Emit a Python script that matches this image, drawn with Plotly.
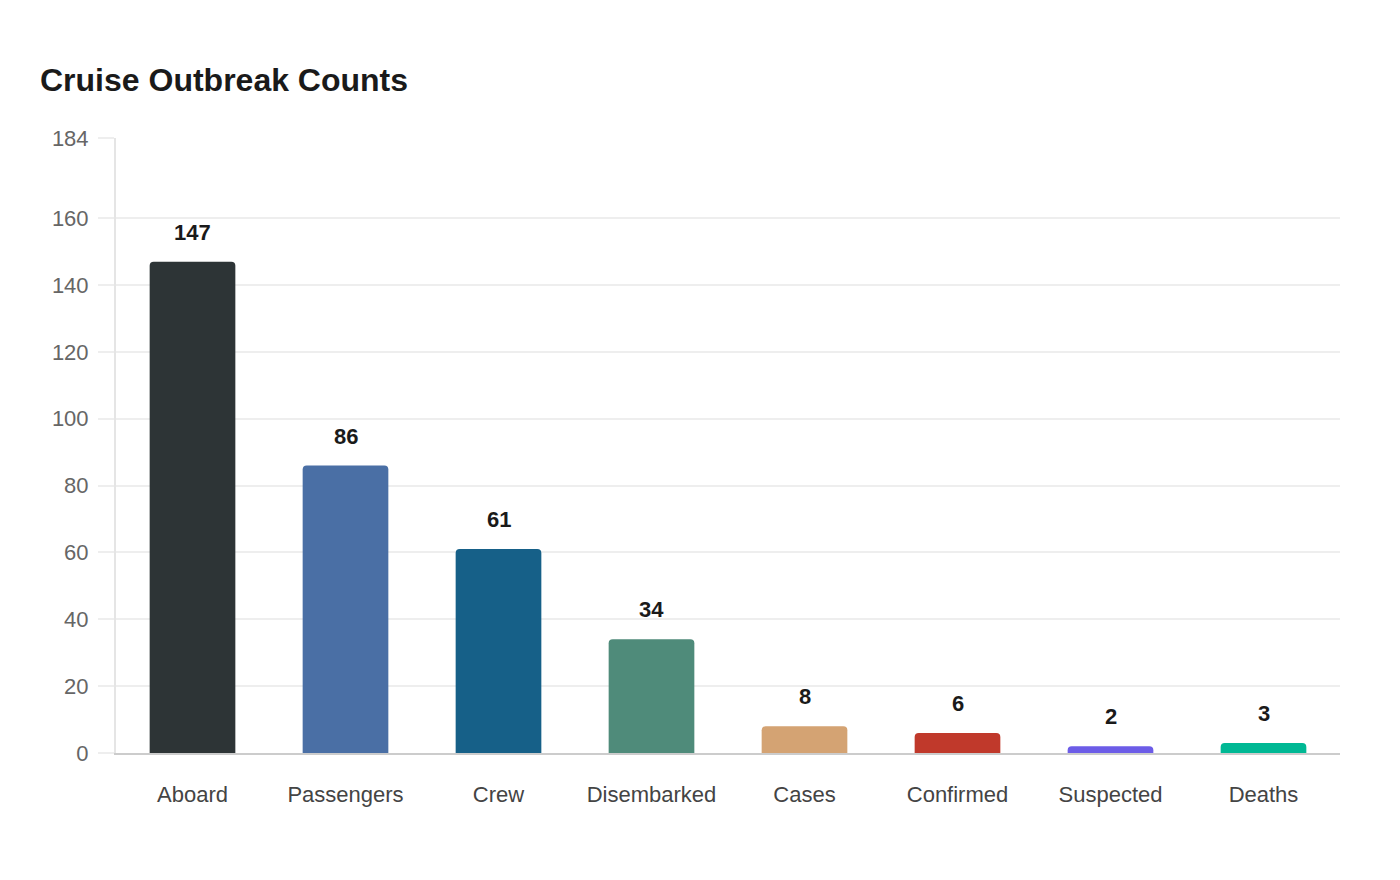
import plotly.graph_objects as go

categories = ["Aboard", "Passengers", "Crew", "Disembarked", "Cases", "Confirmed", "Suspected", "Deaths"]
counts = [147, 86, 61, 34, 8, 6, 2, 3]
bar_colors = ["#2d3436", "#4a6fa5", "#166088", "#4f8b7a", "#d4a373", "#c0392b", "#6c5ce7", "#00b894"]
y_ticks = [0, 20, 40, 60, 80, 100, 120, 140, 160, 184]

fig = go.Figure()
fig.add_trace(go.Bar(
    x=categories,
    y=counts,
    marker=dict(color=bar_colors, cornerradius=4, line=dict(width=0)),
    hoverinfo="x+y",
))

# value labels above the bars
for cat, val in zip(categories, counts):
    fig.add_annotation(
        x=cat, y=val, text=str(val), showarrow=False,
        yanchor="bottom", yshift=15,
        font=dict(family="Liberation Sans, Arial, sans-serif", size=22, color="#1a1a1a", weight="bold"),
    )

fig.update_layout(
    width=1400,
    height=880,
    paper_bgcolor="white",
    plot_bgcolor="white",
    margin=dict(l=108, r=68, t=130, b=135),
    bargap=0.44,
    showlegend=False,
    font=dict(family="Liberation Sans, Arial, sans-serif"),
    title=dict(
        text="<b>Cruise Outbreak Counts</b>",
        xref="container", yref="container",
        x=32 / 1400, xanchor="left",
        y=1 - 72 / 880, yanchor="middle",
        font=dict(size=32, color="#1a1a1a"),
    ),
)

fig.update_xaxes(
    showline=True, linecolor="#cccccc", linewidth=2,
    showgrid=False, ticks="", ticklabelstandoff=21,
    tickfont=dict(size=22, color="#444444"),
)
fig.update_yaxes(
    range=[0, 184], tickvals=y_ticks,
    showgrid=True, gridcolor="#eeeeee", gridwidth=1.5,
    showline=True, linecolor="#e5e5e5", linewidth=2,
    ticks="outside", ticklen=16, tickcolor="#eeeeee", tickwidth=1.5,
    ticklabelstandoff=5,
    zeroline=False,
    tickfont=dict(size=22, color="#666666"),
)

fig.write_html("out.html")
